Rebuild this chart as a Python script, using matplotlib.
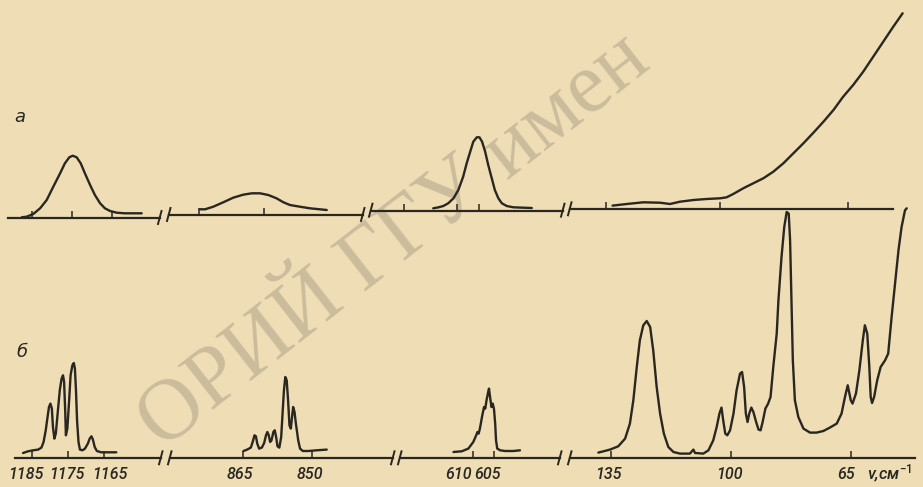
import matplotlib
matplotlib.use("Agg")
import matplotlib.pyplot as plt
from matplotlib.lines import Line2D

W, H = 923, 487
BG = "#eeddb5"
INK = "#2a2721"
WM = "#cbbc9c"

# ---------------- data (wavenumber, cm^-1 ; intensity, arb.) ----------------
# spectrum "a" (top row)
a1_nu = [1187.5, 1186.25, 1184.6, 1182.9, 1181.25, 1179.6, 1177.9, 1176.7, 1175.6, 1174.75,
         1173.75, 1172.75, 1171.7, 1170.4, 1169.2, 1167.9, 1166.7, 1165.4, 1163.75, 1161.7,
         1159.6, 1157.5]
a1_I = [0.7, 1.3, 4, 9.7, 18, 31.3, 44.7, 54.7, 60.7, 62.3, 60.7, 54.7, 44.7, 33, 23, 14.7,
        9.7, 7, 5.3, 4.7, 4.7, 4.7]

a2_nu = [864.8, 863.6, 861.7, 859.4, 857.1, 854.8, 852.8, 850.9, 849.0, 847.1, 845.5, 844.0,
         841.7, 839.4, 837.1, 835.5]
a2_I = [5.7, 5.7, 8.3, 12.7, 17.3, 20.3, 21.7, 21.7, 20, 16.7, 12.7, 10, 8.3, 6.7, 5.7, 5]

a3_nu = [615.4, 614.2, 613.1, 612.0, 610.8, 609.7, 608.6, 607.8, 607.0, 606.3, 605.5, 604.9,
         604.3, 603.6, 602.9, 602.1, 601.4, 600.6, 599.8, 598.7, 597.2, 594.9, 593.0]
a3_I = [2.4, 3.4, 4.7, 7.4, 12.4, 20.7, 34, 47.4, 59, 69, 73.4, 73.4, 69, 59, 45.7, 32.4,
        20.7, 12.4, 7.4, 4.7, 3.4, 3, 2.7]

a4_nu = [133.1, 129.0, 124.2, 119.4, 116.5, 113.6, 109.7, 105.9, 102.0, 100.1, 98.2, 95.3,
         92.4, 89.5, 86.6, 83.7, 80.8, 77.9, 75.0, 72.1, 69.2, 66.4, 63.5, 60.6, 57.7, 54.8,
         51.9, 49.2]
a4_I = [3.7, 5.3, 7, 6.6, 5.3, 7.6, 9.3, 10.3, 11, 12, 15.3, 21, 26, 31, 37.6, 46, 56, 66,
        76.6, 87.6, 99.3, 112.6, 124.3, 137.6, 152.6, 167.6, 182.6, 196]

# spectrum "б" (bottom row)
b1_nu = [1187.4, 1186.0, 1184.6, 1183.2, 1182.3, 1181.7, 1181.1, 1180.6, 1180.2, 1179.8,
         1179.4, 1179.1, 1178.7, 1178.3, 1177.8, 1177.2, 1176.7, 1176.3, 1176.0, 1175.7,
         1175.5, 1175.1, 1174.6, 1174.2, 1173.7, 1173.3, 1173.0, 1172.7, 1172.4, 1172.0,
         1171.6, 1170.9, 1170.2, 1169.4, 1168.9, 1168.4, 1168.0, 1167.5, 1166.9, 1165.7,
         1163.3, 1161.5]
b1_I = [5.3, 7, 8, 8.7, 10.7, 16.3, 28, 41.3, 51.3, 54.7, 49.7, 31.3, 19.7, 24.7, 44.7, 68,
        79.7, 83, 76.3, 48, 23, 29.7, 58, 83, 93, 95.3, 89.7, 68, 38, 16.3, 8.7, 8, 9.7, 14.7,
        19.7, 22, 18.7, 11.3, 7.3, 6, 6, 6]

b2_nu = [864.9, 864.1, 863.3, 862.9, 862.5, 862.2, 861.9, 861.5, 860.9, 860.4, 860.0, 859.7,
         859.4, 859.1, 858.8, 858.4, 858.1, 857.8, 857.5, 857.1, 856.7, 856.4, 856.1, 855.8,
         855.5, 855.2, 854.9, 854.6, 854.3, 854.1, 853.8, 853.5, 853.0, 852.6, 852.0, 850.8,
         849.0, 846.8]
b2_I = [7.3, 8.7, 10.7, 16.3, 23, 22, 14.7, 9.7, 10.7, 15.3, 23, 26.3, 23, 16.3, 18, 26.3,
        28, 21.3, 12, 10.7, 21.3, 44.7, 68, 81.3, 78, 58, 33, 29.7, 43, 51.3, 46.3, 34.7, 18,
        9.7, 7.3, 7.3, 8, 8.7]

b3_nu = [614.8, 612.8, 611.2, 610.0, 609.3, 609.0, 608.7, 608.4, 607.9, 607.4, 607.1, 606.8,
         606.4, 606.2, 606.0, 605.6, 605.3, 605.0, 604.7, 604.5, 604.2, 603.5, 602.3, 600.3,
         598.7]
b3_I = [6.3, 7, 9.7, 16.3, 23, 26.3, 24.7, 29.7, 41.3, 51.3, 49.7, 58, 66.3, 69.7, 63, 51.3,
        54.7, 49.7, 34.7, 18, 9.7, 8, 7.3, 7.3, 8]

b4_nu = [138.6, 135.2, 132.8, 130.8, 129.4, 128.4, 127.4, 126.5, 125.5, 124.5, 123.5, 122.6,
         121.6, 120.6, 119.5, 118.2, 116.7, 114.8, 111.9, 110.9, 110.4, 108.0, 106.5, 105.1,
         104.1, 103.3, 102.7, 102.2, 101.6, 101.0, 100.2, 99.2, 98.3, 97.3, 96.7, 96.1, 95.6,
         95.1, 94.6, 94.0, 93.4, 92.6, 91.9, 91.3, 90.7, 89.9, 89.1, 88.4, 87.6, 86.6,
         86.1, 85.2, 84.4, 83.7, 83.1, 82.7, 82.3, 81.9, 81.3, 80.3, 78.8, 76.9, 75.0, 73.0,
         71.1, 69.1, 67.7, 66.7, 65.9, 65.0, 64.5, 63.5, 62.5, 61.5, 60.9, 60.2, 59.6, 59.2,
         58.8, 58.2, 57.3, 56.3, 55.0, 54.1, 53.1, 52.1, 51.1, 50.2, 49.2, 48.7]
b4_I = [5.7, 8.7, 12, 19.7, 34.7, 58, 91.3, 118, 133, 137.3, 131.3, 108, 71.3, 44.7, 24.7,
        11.3, 6.3, 4.7, 4.7, 8.7, 5.3, 4.7, 8, 18, 31.3, 44.7, 50.7, 38, 24.7, 23, 28, 44.7,
        68, 84.7, 86.3, 71.3, 44.7, 36.3, 44.7, 50.7, 46.3, 36.3, 28.7, 28, 36.3, 49.7, 54.7,
        61.3, 91.3, 124.7,
        158, 201.3, 231.3, 246.3, 244.7, 218, 158, 98, 58, 41.3, 29.7, 25.7, 25.7, 27.3, 30.7,
        34.7, 44.7, 61.3, 73, 58, 54.7, 64.7, 88, 118, 133, 124.7, 91.3, 61.3, 55.3, 61.3, 78,
        91.3, 98, 104.7, 141.3, 174.7, 208, 231.3, 248, 250]

a_ticks = [[1185, 1175, 1165], [865, 850], [622, 610, 605], [135, 102, 65]]
b_ticks = [[1185, 1175, 1165], [865, 850], [610, 605], [135, 100, 65]]
b_labels = [["1185", "1175", "1165"], ["865", "850"], ["610", "605"], ["135", "100", "65"]]

panel_a = "а"
panel_b = "б"
axis_title = r"ν,см$^{-1}$"
watermark = "ОРИЙ ГГУ имен"

# ---------------- layout (pixels) ----------------
# left, right, baseline, ref wavenumber, ref pixel, pixels per cm^-1, height
top_layout = [(8, 160, 218, 1185, 31.7, 4.0, 120),
              (169, 363, 215, 865, 199, 4.33, 120),
              (371, 563, 210.7, 610, 457, 4.4, 120),
              (570, 893, 209.3, 135, 606, 3.457, 200)]
bot_layout = [(15, 161, 458.3, 1185, 31.7, 3.6, 250),
              (170, 393, 458.3, 865, 243, 4.6, 250),
              (400, 560, 458.3, 610, 473.3, 4.13, 250),
              (570, 915, 458.3, 135, 610.7, 3.43, 250)]
# horizontal shift of each bottom label relative to its tick (pixels)
b_label_dx = [[-6, -1, 6], [-3, -2], [-15, -6], [-2, -1, -5]]

plt.rcParams["mathtext.default"] = "it"
plt.rcParams["mathtext.fontset"] = "custom"
plt.rcParams["mathtext.it"] = "Roboto:italic:medium"
plt.rcParams["mathtext.rm"] = "Roboto:medium"
fig = plt.figure(figsize=(W / 100, H / 100), dpi=100, facecolor=BG)

LABEL_FONT = ["Roboto", "DejaVu Sans"]
PT = 0.72  # points per pixel at 100 dpi


def fx(px):
    return px / W


def fy(py):
    return 1 - py / H


def make_seg(lay, ticks):
    left, right, base, rc, rp, ppc, hgt = lay
    ax = fig.add_axes([fx(left), fy(base), (right - left) / W, hgt / H])
    ax.set_xlim(rc + (rp - left) / ppc, rc - (right - rp) / ppc)
    ax.set_ylim(0, hgt)
    ax.patch.set_visible(False)
    for s in ("top", "left", "right"):
        ax.spines[s].set_visible(False)
    ax.spines["bottom"].set_color(INK)
    ax.spines["bottom"].set_linewidth(1.6)
    ax.yaxis.set_visible(False)
    ax.set_xticks(ticks)
    ax.set_xticklabels([""] * len(ticks))
    ax.tick_params(axis="x", direction="in", length=5, width=1.1, color=INK)
    return ax


def break_mark(px, base):
    fig.add_artist(Line2D([fx(px - 2), fx(px + 1.5)], [fy(base + 6), fy(base - 7)],
                          color=INK, lw=1.4, transform=fig.transFigure))


# watermark (behind everything)
fig.text(fx(395), fy(242), watermark, rotation=38, fontsize=62, color=WM,
         family=["Liberation Serif", "DejaVu Serif"], ha="center", va="center",
         rotation_mode="anchor", zorder=-5)

top_data = [(a1_nu, a1_I), (a2_nu, a2_I), (a3_nu, a3_I), (a4_nu, a4_I)]
bot_data = [(b1_nu, b1_I), (b2_nu, b2_I), (b3_nu, b3_I), (b4_nu, b4_I)]

for i, (lay, (nu, I)) in enumerate(zip(top_layout, top_data)):
    ax = make_seg(lay, a_ticks[i])
    ax.plot(nu, I, color=INK, lw=1.7, clip_on=False, solid_joinstyle="round",
            solid_capstyle="round")
    if i > 0:
        break_mark(lay[0], lay[2])
    if i < 3:
        break_mark(lay[1], lay[2])

for i, (lay, (nu, I)) in enumerate(zip(bot_layout, bot_data)):
    ax = make_seg(lay, b_ticks[i])
    ax.plot(nu, I, color=INK, lw=1.7, clip_on=False, solid_joinstyle="round",
            solid_capstyle="round")
    for t, lbl, dx in zip(b_ticks[i], b_labels[i], b_label_dx[i]):
        ax.annotate(lbl, xy=(t, 0), xycoords=("data", "axes fraction"),
                    xytext=(dx * PT, -16 * PT), textcoords="offset points",
                    ha="center", va="center", fontsize=11.5, style="italic",
                    weight="medium", color=INK, family=LABEL_FONT,
                    annotation_clip=False)
    if i > 0:
        break_mark(lay[0], lay[2])
    if i < 3:
        break_mark(lay[1], lay[2])

fig.text(fx(14), fy(117), panel_a, fontsize=13, style="italic", color=INK,
         family=["DejaVu Sans"], ha="left", va="center")
fig.text(fx(16), fy(352), panel_b, fontsize=13, style="italic", color=INK,
         family=["DejaVu Sans"], ha="left", va="center")
fig.text(fx(867), fy(474), axis_title, fontsize=12, style="italic", weight="medium",
         color=INK, family=LABEL_FONT, ha="left", va="center")

fig.savefig("out.png", dpi=100, facecolor=BG)
